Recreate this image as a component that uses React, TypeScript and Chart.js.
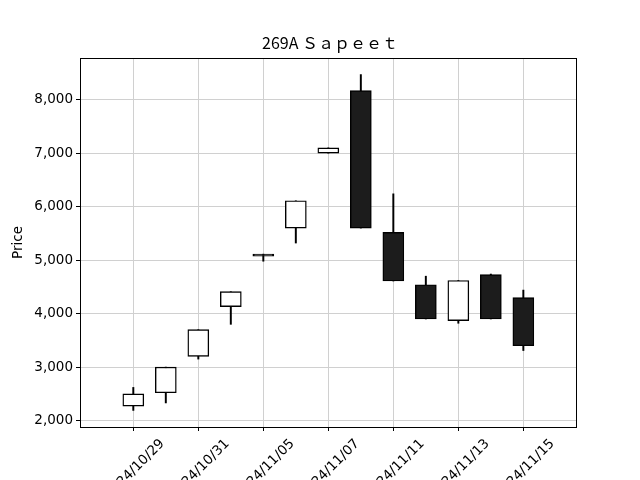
import React, { useEffect, useRef } from "react";
import { Chart, registerables } from "chart.js";

Chart.register(...registerables);

const titleText = "269A Ｓａｐｅｅｔ";
const dates = ["24/10/29", "24/10/30", "24/10/31", "24/11/01", "24/11/05", "24/11/06", "24/11/07", "24/11/08", "24/11/11", "24/11/12", "24/11/13", "24/11/14", "24/11/15"];
const opens = [2270, 2520, 3200, 4130, 5112, 5600, 7000, 8170, 5520, 4540, 3870, 4730, 4300];
const closes = [2500, 3000, 3700, 4410, 5074, 6110, 7100, 5600, 4610, 3900, 4620, 3900, 3400];
const highs = [2620, 3000, 3700, 4410, 5112, 6110, 7100, 8470, 6240, 4700, 4620, 4740, 4440];
const lows = [2190, 2330, 3150, 3800, 4980, 5320, 7000, 5600, 4610, 3900, 3820, 3900, 3310];
const xTickIndex = [0, 2, 4, 6, 8, 10, 12];
const yTicks = [2000, 3000, 4000, 5000, 6000, 7000, 8000];

const frame = {
  id: "frame",
  afterDraw(chart: any) {
    const { ctx, chartArea } = chart;
    ctx.save();
    ctx.strokeStyle = "#000";
    ctx.lineWidth = 1;
    ctx.strokeRect(Math.round(chartArea.left) + 0.5, Math.round(chartArea.top) + 0.5, Math.round(chartArea.right - chartArea.left), Math.round(chartArea.bottom - chartArea.top));
    ctx.fillStyle = "#000";
    ctx.font = "16px 'Noto Sans CJK JP'";
    ctx.textAlign = "center";
    ctx.textBaseline = "middle";
    ctx.fillText(titleText, (chartArea.left + chartArea.right) / 2 + 2, 43);
    ctx.restore();
  },
};

export default function App() {
  const ref = useRef<HTMLCanvasElement>(null);
  useEffect(() => {
    if (!ref.current) return;
    const up = (i: number) => closes[i] >= opens[i];
    const chart = new Chart(ref.current, {
      type: "bar",
      data: {
        datasets: [
          {
            label: "body",
            data: dates.map((_, i) => ({ x: i, y: [opens[i], closes[i]] })) as any,
            backgroundColor: (c: any) => (up(c.dataIndex) ? "#ffffff" : "#1c1c1c"),
            borderColor: "#000",
            borderWidth: 1.4,
            borderSkipped: false,
            barThickness: 21,
            grouped: false,
            order: 1,
          },
          {
            label: "wick",
            data: dates.map((_, i) => ({ x: i, y: [lows[i], highs[i]] })) as any,
            backgroundColor: "#000",
            borderWidth: 0,
            barThickness: 1.3,
            grouped: false,
            order: 2,
          },
        ],
      },
      options: {
        animation: false,
        responsive: false,
        devicePixelRatio: 1,
        layout: { padding: { left: 0, right: 64, top: 58, bottom: 0 } },
        plugins: {
          legend: { display: false },
          tooltip: { enabled: false },
          title: { display: false },
        },
        scales: {
          x: {
            type: "linear",
            min: -1.64,
            max: 13.62,
            offset: false,
            grid: { offset: false, color: "#d0d0d0", lineWidth: 1, tickColor: "#000", tickLength: 4, drawTicks: true },
            border: { display: false },
            afterBuildTicks: (s: any) => {
              s.ticks = xTickIndex.map((v) => ({ value: v }));
            },
            afterFit: (s: any) => {
              s.height = 53;
              s.paddingLeft = 0;
              s.paddingRight = 0;
            },
            ticks: {
              autoSkip: false,
              minRotation: 45,
              maxRotation: 45,
              labelOffset: 29,
              padding: 5,
              color: "#000",
              font: { family: "'DejaVu Sans'", size: 13.5 },
              callback: (v: any) => dates[v as number] ?? "",
            },
          },
          y: {
            type: "linear",
            min: 1880,
            max: 8780,
            grid: { color: "#d0d0d0", lineWidth: 1, tickColor: "#000", tickLength: 4 },
            border: { display: false },
            afterBuildTicks: (s: any) => {
              s.ticks = yTicks.map((v) => ({ value: v }));
            },
            afterFit: (s: any) => {
              s.width = 80;
              s.paddingTop = 0;
              s.paddingBottom = 0;
            },
            title: {
              display: true,
              text: "Price",
              color: "#000",
              font: { family: "'DejaVu Sans'", size: 13.5 },
              padding: { top: 10, bottom: 0 },
            },
            ticks: {
              color: "#000",
              padding: 3,
              font: { family: "'DejaVu Sans'", size: 13.5 },
              callback: (v: any) => Number(v).toLocaleString("en-US"),
            },
          },
        },
      },
      plugins: [frame],
    });
    return () => chart.destroy();
  }, []);
  return (
    <div style={{ position: "absolute", left: 0, top: 0, width: 640, height: 480, background: "#fff" }}>
      <canvas ref={ref} width={640} height={480} />
    </div>
  );
}
